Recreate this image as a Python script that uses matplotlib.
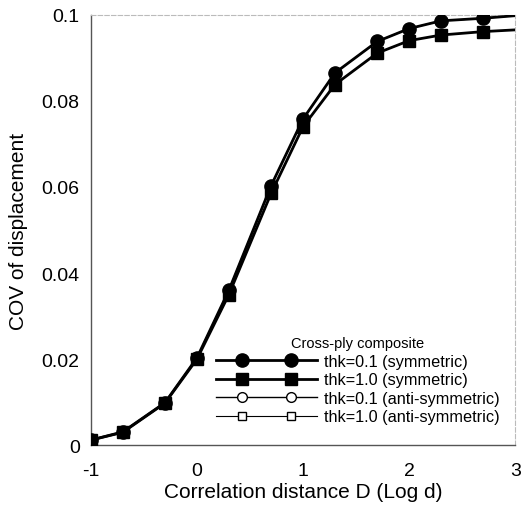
import numpy as np
import matplotlib
matplotlib.use("Agg")
import matplotlib.pyplot as plt
from matplotlib.lines import Line2D
from matplotlib.legend_handler import HandlerLine2D

plt.rcParams['font.family'] = ['Liberation Sans', 'DejaVu Sans']
plt.rcParams['axes.unicode_minus'] = False

# correlation distance D = log10(d)
D = [-1, -0.699, -0.301, 0, 0.301, 0.699, 1, 1.301, 1.699, 2, 2.301, 2.699, 3]

# COV of displacement
sym_01 = [0.0012, 0.0031, 0.0099, 0.0203, 0.0360, 0.0603, 0.0758, 0.0865, 0.0938, 0.0968, 0.0986, 0.0992, 0.0998]
sym_10 = [0.0012, 0.0030, 0.0098, 0.0200, 0.0350, 0.0585, 0.0740, 0.0838, 0.0911, 0.0940, 0.0953, 0.0961, 0.0965]
anti_01 = [0.0012, 0.0031, 0.0099, 0.0203, 0.0360, 0.0603, 0.0758, 0.0865, 0.0938, 0.0968, 0.0986, 0.0992, 0.0998]
anti_10 = [0.0012, 0.0030, 0.0098, 0.0200, 0.0350, 0.0585, 0.0740, 0.0838, 0.0911, 0.0940, 0.0953, 0.0961, 0.0965]

labels = ['thk=0.1 (symmetric)', 'thk=1.0 (symmetric)',
          'thk=0.1 (anti-symmetric)', 'thk=1.0 (anti-symmetric)']


# legend line runs the full handle width, markers sit inside it
class InsetMarkers(HandlerLine2D):
    def create_artists(self, legend, orig_handle, xdescent, ydescent,
                       width, height, fontsize, trans):
        y = height / 2 - ydescent
        pad = 1.6 * fontsize
        line = Line2D([-xdescent, width - xdescent], [y, y])
        self.update_prop(line, orig_handle, legend)
        line.set_marker('None')
        mx = np.linspace(-xdescent + pad, width - xdescent - pad, 2)
        marks = Line2D(mx, [y, y])
        self.update_prop(marks, orig_handle, legend)
        marks.set_linestyle('None')
        line.set_transform(trans)
        marks.set_transform(trans)
        return [line, marks]


fig = plt.figure(figsize=(5.22, 5.10), dpi=100)
ax = fig.add_axes([0.174, 0.125, 0.813, 0.844])

mk = list(range(len(D) - 1))
ax.plot(D, anti_01, color='black', lw=1.0, marker='o', ms=7, mfc='white', mec='black', markevery=mk, label=labels[2], zorder=2)
ax.plot(D, anti_10, color='black', lw=0.8, marker='s', ms=6, mfc='white', mec='black', markevery=mk, label=labels[3], zorder=2)
ax.plot(D, sym_01, color='black', lw=2.0, marker='o', ms=9.5, markevery=mk, label=labels[0], zorder=3)
ax.plot(D, sym_10, color='black', lw=2.0, marker='s', ms=8.5, markevery=mk, label=labels[1], zorder=3)

ax.set_xlim(-1, 3)
ax.set_ylim(0, 0.1)
ax.set_xticks([-1, 0, 1, 2, 3])
ax.set_yticks([0, 0.02, 0.04, 0.06, 0.08, 0.1])
ax.set_yticklabels(['0', '0.02', '0.04', '0.06', '0.08', '0.1'])
ax.tick_params(length=0, labelsize=14)
ax.tick_params(axis='y', pad=8)
ax.tick_params(axis='x', pad=12)
ax.set_xlabel('Correlation distance D (Log d)', fontsize=15, labelpad=2)
ax.set_ylabel('COV of displacement', fontsize=15, labelpad=10)

for s in ['top', 'right']:
    ax.spines[s].set_color('#bbbbbb')
    ax.spines[s].set_linestyle((0, (4, 2)))
    ax.spines[s].set_linewidth(0.8)
for s in ['left', 'bottom']:
    ax.spines[s].set_color('#555555')
    ax.spines[s].set_linewidth(1.0)

h, l = ax.get_legend_handles_labels()
order = [2, 3, 0, 1]
leg = ax.legend([h[i] for i in order], [l[i] for i in order],
                title='Cross-ply composite', loc='lower right',
                bbox_to_anchor=(0.99, 0.022), frameon=False, fontsize=11.7,
                title_fontsize=10.5, handlelength=6.25,
                handletextpad=0.4, labelspacing=0.22, borderpad=0.2,
                handler_map={Line2D: InsetMarkers()})
leg._legend_box.align = 'center'

fig.savefig('out.png', dpi=100)
